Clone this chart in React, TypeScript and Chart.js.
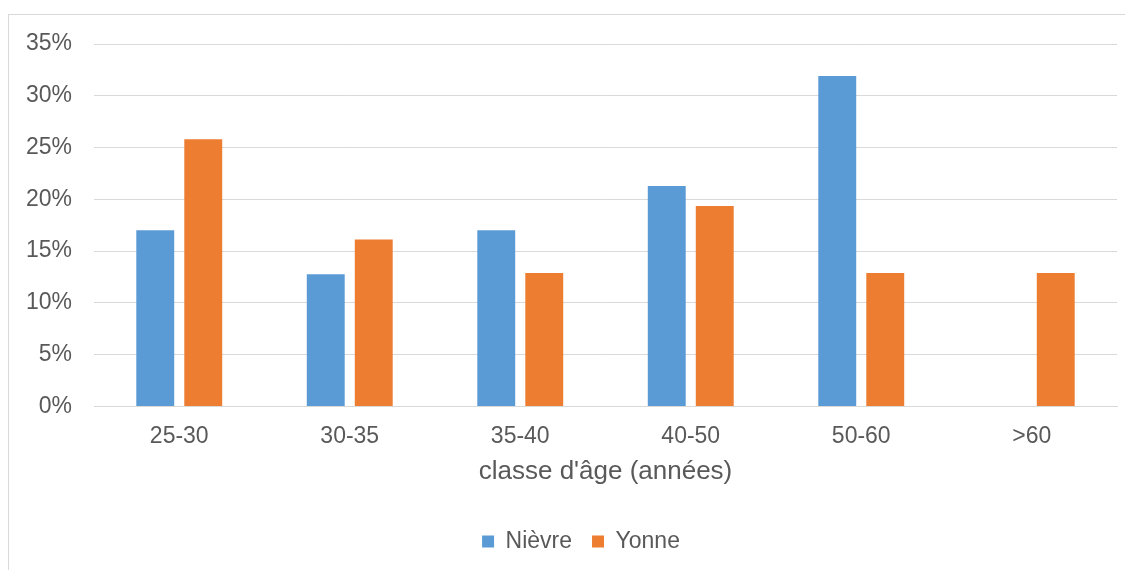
import React, { useEffect, useRef } from "react";
import { Chart, registerables } from "chart.js";

Chart.register(...registerables);

const categories = ["25-30", "30-35", "35-40", "40-50", "50-60", ">60"];
const nievre = [17.02, 12.77, 17.02, 21.28, 31.91, 0];
const yonne = [25.81, 16.13, 12.9, 19.35, 12.9, 12.9];
const seriesNames = ["Nièvre", "Yonne"];
const axisTitle = "classe d'âge (années)";

const W = 1150;
const H = 570;

export default function App() {
  const ref = useRef<HTMLCanvasElement | null>(null);

  useEffect(() => {
    if (!ref.current) return;
    const font = "'Liberation Sans', Arial, sans-serif";
    const chart = new Chart(ref.current, {
      type: "bar",
      data: {
        labels: categories,
        datasets: [
          {
            label: seriesNames[0],
            data: nievre,
            backgroundColor: "#5B9BD5",
            borderWidth: 0,
            categoryPercentage: 0.563,
            barPercentage: 0.79,
          },
          {
            label: seriesNames[1],
            data: yonne,
            backgroundColor: "#ED7D31",
            borderWidth: 0,
            categoryPercentage: 0.563,
            barPercentage: 0.79,
          },
        ],
      },
      options: {
        responsive: false,
        animation: false,
        layout: { padding: { left: 0, right: 6, top: 29, bottom: 22 } },
        plugins: {
          tooltip: { enabled: false },
          legend: {
            position: "bottom",
            labels: {
              boxWidth: 12,
              boxHeight: 12,
              padding: 20,
              color: "#595959",
              font: { family: font, size: 23 },
            },
          },
        },
        scales: {
          x: {
            grid: { display: false, drawTicks: false },
            border: { display: true, color: "#d9d9d9" },
            ticks: { color: "#595959", font: { family: font, size: 23 }, padding: 16, maxRotation: 0, autoSkip: false },
            title: {
              display: true,
              text: axisTitle,
              color: "#595959",
              font: { family: font, size: 26 },
              padding: { top: 0, bottom: 23 },
            },
            afterFit: (s: any) => {
              s.height = 103.5;
            },
          },
          y: {
            min: 0,
            max: 35,
            grid: { color: "#d9d9d9", lineWidth: 1, drawTicks: false },
            border: { display: false },
            ticks: {
              stepSize: 5,
              color: "#595959",
              font: { family: font, size: 23, lineHeight: 0.5 },
              padding: 22,
              callback: (v: any) => v + "%",
            },
            afterFit: (s: any) => {
              s.width = 85;
            },
          },
          spacer: {
            type: "linear",
            position: "right",
            display: true,
            grid: { display: false, drawTicks: false },
            border: { display: false },
            ticks: { display: false },
            afterFit: (s: any) => {
              s.width = 36;
            },
          },
        },
      },
    });
    return () => chart.destroy();
  }, []);

  return (
    <div style={{ paddingTop: 6 }}>
      <div style={{ width: W, height: H, border: "1px solid #d9d9d9", background: "#fff" }}>
        <canvas ref={ref} width={W} height={H} style={{ display: "block", width: W, height: H }} />
      </div>
    </div>
  );
}
